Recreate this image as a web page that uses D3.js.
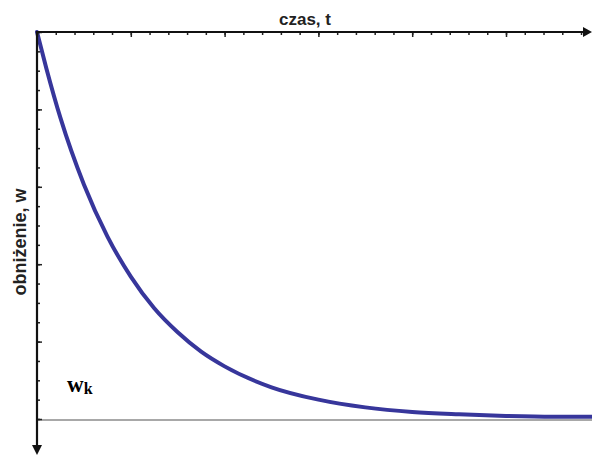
<!DOCTYPE html>
<html>
<head>
<meta charset="utf-8">
<script src="https://cdn.jsdelivr.net/npm/d3@7"></script>
<style>
  html, body { margin: 0; padding: 0; background: #fff; }
  svg { display: block; }
</style>
</head>
<body>
<svg id="chart" width="592" height="457"></svg>
<script>
// Settlement over time: time t (in units of the time constant) and settlement w
const time       = [0, 0.1, 0.25, 0.5, 0.75, 1, 1.25, 1.5, 1.75, 2, 2.5, 3, 3.5, 4, 4.5, 5, 5.5, 5.92];
const settlement = [0, 0.47, 1.11, 1.97, 2.64, 3.16, 3.57, 3.88, 4.13, 4.32, 4.59, 4.75, 4.85, 4.91, 4.94, 4.96, 4.97, 4.97];
const finalSettlement = [5];          // w_k, the asymptote
const xMajorTicks = [0, 1, 2, 3, 4, 5];
const xMinorTicks = d3.range(0, 5.81, 0.2);
const yMajorTicks = [0, 1, 2, 3, 4, 5];
const yMinorTicks = d3.range(0, 5.01, 0.25);
const labels = { x: "czas, t", y: "obniżenie, w" };

const svg = d3.select("#chart");
const W = 592, H = 457;
const x0 = 37, y0 = 32;

const x = d3.scaleLinear().domain([0, 6]).range([x0, x0 + 6 * 93.8]);
const y = d3.scaleLinear().domain([0, 5]).range([y0, 419]);

// Asymptote w_k
svg.append("g").selectAll("line").data(finalSettlement).join("line")
  .attr("x1", x0).attr("x2", W)
  .attr("y1", d => y(d) + 1).attr("y2", d => y(d) + 1)
  .attr("stroke", "#a8a8a8").attr("stroke-width", 2);

// Settlement curve
const line = d3.line()
  .x((d, i) => x(time[i]))
  .y(d => y(d))
  .curve(d3.curveMonotoneX);
svg.append("path")
  .datum(settlement)
  .attr("d", line)
  .attr("fill", "none")
  .attr("stroke", "#37369b")
  .attr("stroke-width", 4)
  .attr("stroke-linecap", "round");

// Horizontal axis along the top, ticks pointing into the plot
function styleAxis(g) {
  g.select(".domain").remove();
  g.selectAll(".tick line").attr("stroke", "#222").attr("stroke-width", 1.5);
  g.selectAll(".tick text").remove();
}
svg.append("g").attr("transform", `translate(0,${y0})`)
  .call(d3.axisBottom(x).tickValues(xMinorTicks).tickSize(3).tickFormat(""))
  .call(styleAxis);
svg.append("g").attr("transform", `translate(0,${y0})`)
  .call(d3.axisBottom(x).tickValues(xMajorTicks).tickSize(5).tickFormat(""))
  .call(styleAxis);

// Vertical axis along the left, pointing downwards
svg.append("g").attr("transform", `translate(${x0},0)`)
  .call(d3.axisRight(y).tickValues(yMinorTicks).tickSize(3).tickFormat(""))
  .call(styleAxis);
svg.append("g").attr("transform", `translate(${x0},0)`)
  .call(d3.axisRight(y).tickValues(yMajorTicks).tickSize(5).tickFormat(""))
  .call(styleAxis);

// Axis lines with arrowheads
svg.append("line").attr("x1", x0 - 1).attr("x2", W - 6).attr("y1", y0).attr("y2", y0)
  .attr("stroke", "#111").attr("stroke-width", 2.2);
svg.append("path").attr("d", `M${W - 9},${y0 - 5} L${W},${y0} L${W - 9},${y0 + 5} Z`).attr("fill", "#111");
svg.append("line").attr("x1", x0).attr("x2", x0).attr("y1", y0 - 1).attr("y2", H - 8)
  .attr("stroke", "#111").attr("stroke-width", 2.2);
svg.append("path").attr("d", `M${x0 - 5},${H - 12} L${x0},${H - 2} L${x0 + 5},${H - 12} Z`).attr("fill", "#111");

// Axis titles
svg.append("text")
  .attr("x", 305).attr("y", 25)
  .attr("text-anchor", "middle")
  .attr("font-family", "Liberation Sans, Arial, sans-serif")
  .attr("font-weight", "bold").attr("font-size", 17)
  .attr("fill", "#222")
  .text(labels.x);
svg.append("text")
  .attr("transform", "translate(26,242) rotate(-90)")
  .attr("text-anchor", "middle")
  .attr("font-family", "Liberation Sans, Arial, sans-serif")
  .attr("font-weight", "bold").attr("font-size", 18)
  .attr("fill", "#222")
  .text(labels.y);

// w_k label
const wk = svg.append("text")
  .attr("x", 67).attr("y", 392)
  .attr("font-family", "Liberation Serif, Times New Roman, serif")
  .attr("font-weight", "bold").attr("font-size", 23)
  .attr("fill", "#000");
wk.append("tspan").text("w");
wk.append("tspan").attr("font-size", 16).attr("dy", 2).text("k");
</script>
</body>
</html>
